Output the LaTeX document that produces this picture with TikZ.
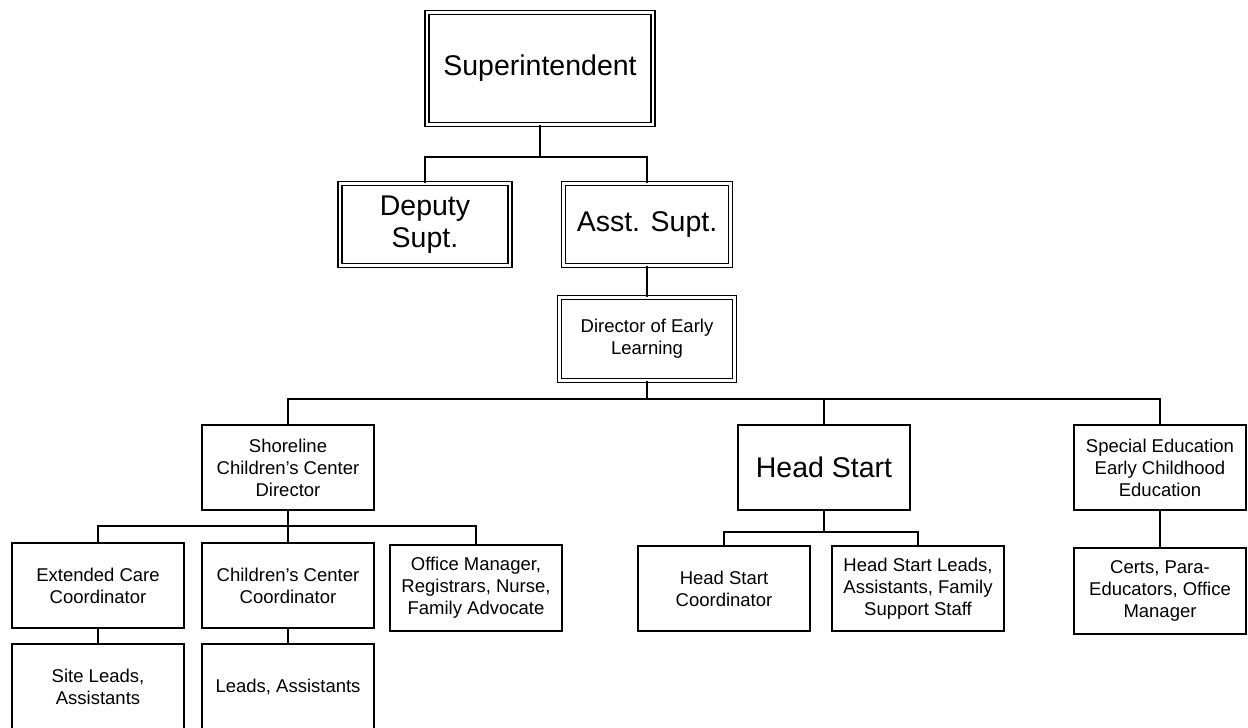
\documentclass[tikz,border=0pt]{standalone}
\usepackage{fontspec}
\setmainfont{Liberation Sans}
\begin{document}
\begin{tikzpicture}[x=1pt,y=-1pt,
  dbox/.style={draw, line width=1.4pt, double, double distance=2.4pt, inner sep=0pt, align=center},
  sbox/.style={draw, line width=2pt, inner sep=0pt, align=center},
  big/.style={font=\fontsize{28.5}{32}\selectfont},
  small/.style={font=\fontsize{18.5}{22}\selectfont},
  conn/.style={line width=2pt}]
\useasboundingbox[fill=white] (0,0) rectangle (1248,728);
% top levels (double boxes)
\node[dbox,big,minimum width=226pt,minimum height=112pt] (sup) at (540,68.5) {Superintendent};
\node[dbox,big,minimum width=170pt,minimum height=82pt] (dep) at (425,224.5) {Deputy\\Supt.};
\node[dbox,big,minimum width=167pt,minimum height=82pt] (asst) at (647,224.5) {Asst. Supt.};
\node[dbox,small,minimum width=175pt,minimum height=83pt] (dir) at (647,339) {Director of Early\\Learning};
% third level
\node[sbox,small,minimum width=172pt,minimum height=85pt] (shore) at (288,467.5) {Shoreline\\Children's Center\\Director};
\node[sbox,big,minimum width=172pt,minimum height=85pt] (hs) at (824,467.5) {Head Start};
\node[sbox,small,minimum width=172pt,minimum height=85pt] (sped) at (1160,467.5) {Special Education\\Early Childhood\\Education};
% fourth level
\node[sbox,small,minimum width=172pt,minimum height=85pt] (ext) at (98,585.5) {Extended Care\\Coordinator};
\node[sbox,small,minimum width=172pt,minimum height=85pt] (ccc) at (288,585.5) {Children's Center\\Coordinator};
\node[sbox,small,minimum width=172pt,minimum height=86pt] (off) at (476,588) {Office Manager,\\Registrars, Nurse,\\Family Advocate};
\node[sbox,small,minimum width=172pt,minimum height=85pt] (hsc) at (724,588.5) {Head Start\\Coordinator};
\node[sbox,small,minimum width=172pt,minimum height=85pt] (hsl) at (918,588.5) {Head Start Leads,\\Assistants, Family\\Support Staff};
\node[sbox,small,minimum width=172pt,minimum height=86pt] (cert) at (1160,591) {Certs, Para-\\Educators, Office\\Manager};
% fifth level (cut off at the bottom)
\node[sbox,small,minimum width=172pt,minimum height=85pt] (site) at (98,686.5) {Site Leads,\\Assistants};
\node[sbox,small,minimum width=172pt,minimum height=85pt] (leads) at (288,686.5) {Leads, Assistants};
% bus levels
\coordinate (y1) at (0,157);
\coordinate (y2) at (0,399);
\coordinate (y3) at (0,526);
\coordinate (y4) at (0,532);
\coordinate (b1) at (sup.south |- y1);
\coordinate (b2) at (dir.south |- y2);
\coordinate (b3) at (shore.south |- y3);
\coordinate (b4) at (hs.south |- y4);
% connectors
\draw[conn] (sup.south) -- (b1);
\draw[conn] (dep.north) |- (b1) -| (asst.north);
\draw[conn] (asst.south) -- (dir.north);
\draw[conn] (dir.south) -- (b2);
\draw[conn] (shore.north) |- (b2) -| (sped.north);
\draw[conn] (hs.north) -- (hs.north |- b2);
\draw[conn] (shore.south) -- (b3);
\draw[conn] (ext.north) |- (b3) -| (off.north);
\draw[conn] (ccc.north) -- (b3);
\draw[conn] (hs.south) -- (b4);
\draw[conn] (hsc.north) |- (b4) -| (hsl.north);
\draw[conn] (sped.south) -- (cert.north);
\draw[conn] (ext.south) -- (site.north);
\draw[conn] (ccc.south) -- (leads.north);
\end{tikzpicture}
\end{document}
